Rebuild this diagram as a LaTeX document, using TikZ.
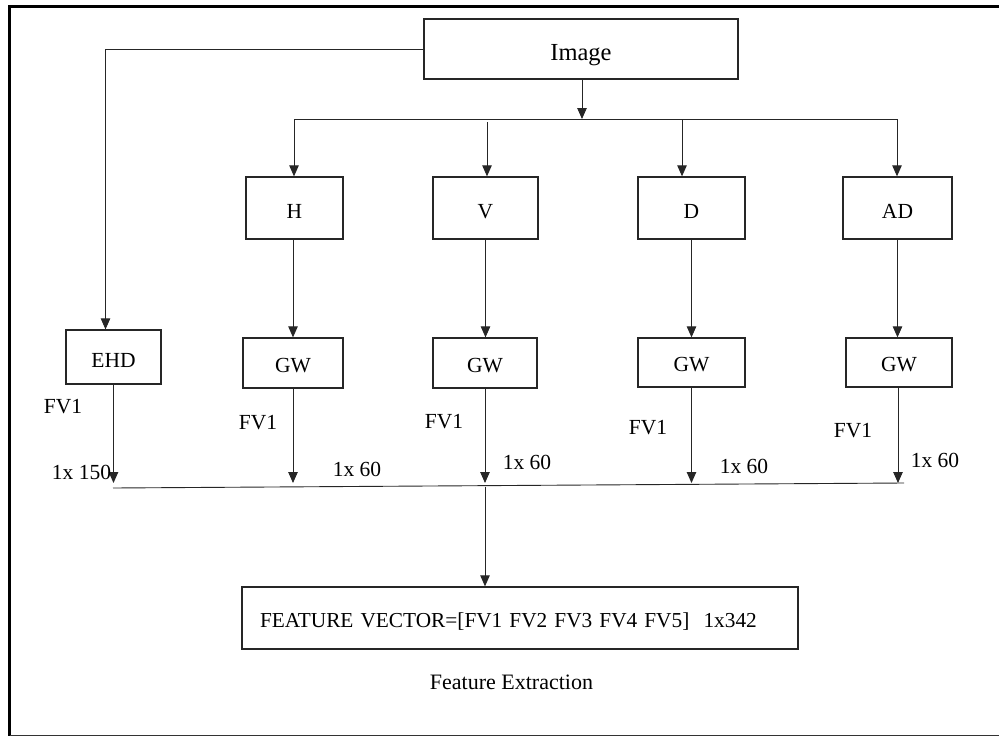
\documentclass[tikz,border=0pt]{standalone}
\usepackage{fontspec}
\setmainfont{Liberation Serif}
\usetikzlibrary{arrows.meta}
\begin{document}
\begin{tikzpicture}[x=1pt,y=-1pt,
  box/.style={draw=black!85, line width=1.3pt, inner sep=0pt, text height=20pt, text depth=0pt, font=\fontsize{21.5}{24}\selectfont},
  lbl/.style={anchor=base, inner sep=0pt, font=\fontsize{21.5}{24}\selectfont},
  conn/.style={draw=black!85, line width=0.9pt},
  arr/.style={conn, -{Triangle[length=11pt,width=9.5pt]}}]
\useasboundingbox (0,0) rectangle (999,736);
% frame
\draw[line width=3.5pt] (9.5,736) -- (9.5,6.5) -- (999,6.5);
\draw[line width=1.2pt, black!80] (9.5,735.3) -- (999,735.3);
% boxes
\node[box, minimum width=314pt, minimum height=60pt, text height=22pt, font=\fontsize{24.5}{28}\selectfont] (img) at (581,49) {Image};
\node[box, minimum width=97pt, minimum height=62pt] (H) at (294.5,208) {H};
\node[box, minimum width=105pt, minimum height=62pt] (V) at (485.5,208) {V};
\node[box, minimum width=107pt, minimum height=62pt] (D) at (691.5,208) {D};
\node[box, minimum width=109pt, minimum height=62pt] (AD) at (897.5,208) {AD};
\node[box, minimum width=95pt, minimum height=54pt] (EHD) at (113.5,357) {EHD};
\node[box, minimum width=100pt, minimum height=50pt, text height=18pt] (GW1) at (293,363) {GW};
\node[box, minimum width=104pt, minimum height=50pt, text height=18pt] (GW2) at (485,363) {GW};
\node[box, minimum width=107pt, minimum height=49pt, text height=18pt] (GW3) at (691.5,362.5) {GW};
\node[box, minimum width=106pt, minimum height=49pt, text height=18pt] (GW4) at (899,362.5) {GW};
\node[box, minimum width=556pt, minimum height=62pt, text height=18pt, text width=520pt, align=left, font=\fontsize{21.3}{25}\selectfont] (fv) at (520,618) {\mbox{FEATURE VECTOR=[FV1 FV2 FV3 FV4 FV5]~~1x342}};
% coordinates
\coordinate (bustop) at (582,119);
\coordinate (busL) at (294,119);
\coordinate (busR) at (897,119);
\coordinate (vtap) at (487,122);
\coordinate (dtap) at (682,119);
\coordinate (tips) at (0,483);
\coordinate (bl) at (113,488);
\coordinate (br) at (904,483);
\coordinate (fvtap) at (485,486.5);
% connectors
\draw[arr] (img.west) -| ([xshift=-8pt]EHD.north);
\draw[arr] ([xshift=1pt]img.south) -- (bustop);
\draw[conn] (busL) -- (busR);
\draw[arr] (busL) -- (busL |- H.north);
\draw[arr] (vtap) -- (vtap |- V.north);
\draw[arr] (dtap) -- (dtap |- D.north);
\draw[arr] (busR) -- (busR |- AD.north);
\draw[arr] ([xshift=-1.5pt]H.south) -- ([xshift=-1.5pt]H.south |- GW1.north);
\draw[arr] (V.south) -- (V.south |- GW2.north);
\draw[arr] (D.south) -- (D.south |- GW3.north);
\draw[arr] (AD.south) -- (AD.south |- GW4.north);
\draw[arr] (EHD.south) -- (EHD.south |- tips);
\draw[arr] (GW1.south) -- (GW1.south |- tips);
\draw[arr] (GW2.south) -- (GW2.south |- tips);
\draw[arr] (GW3.south) -- (GW3.south |- tips);
\draw[arr] ([xshift=-1pt]GW4.south) -- ([xshift=-1pt]GW4.south |- tips);
\draw[conn] (bl) -- (br);
\draw[arr] (fvtap) -- (fvtap |- fv.north);
% labels
\node[lbl] (f1) at (63,413) {FV1};
\node[lbl] (f2) at (258,429) {FV1};
\node[lbl] (f3) at (444,428) {FV1};
\node[lbl] (f4) at (648,434) {FV1};
\node[lbl] (f5) at (853,437) {FV1};
\node[lbl] (s1) at (81.5,479) {1x 150};
\node[lbl] (s2) at (357,476) {1x 60};
\node[lbl] (s3) at (527,469) {1x 60};
\node[lbl] (s4) at (744,473) {1x 60};
\node[lbl] (s5) at (935,467) {1x 60};
\node[lbl, font=\fontsize{22}{25}\selectfont] (cap) at (511.5,689) {Feature Extraction};
\end{tikzpicture}
\end{document}
